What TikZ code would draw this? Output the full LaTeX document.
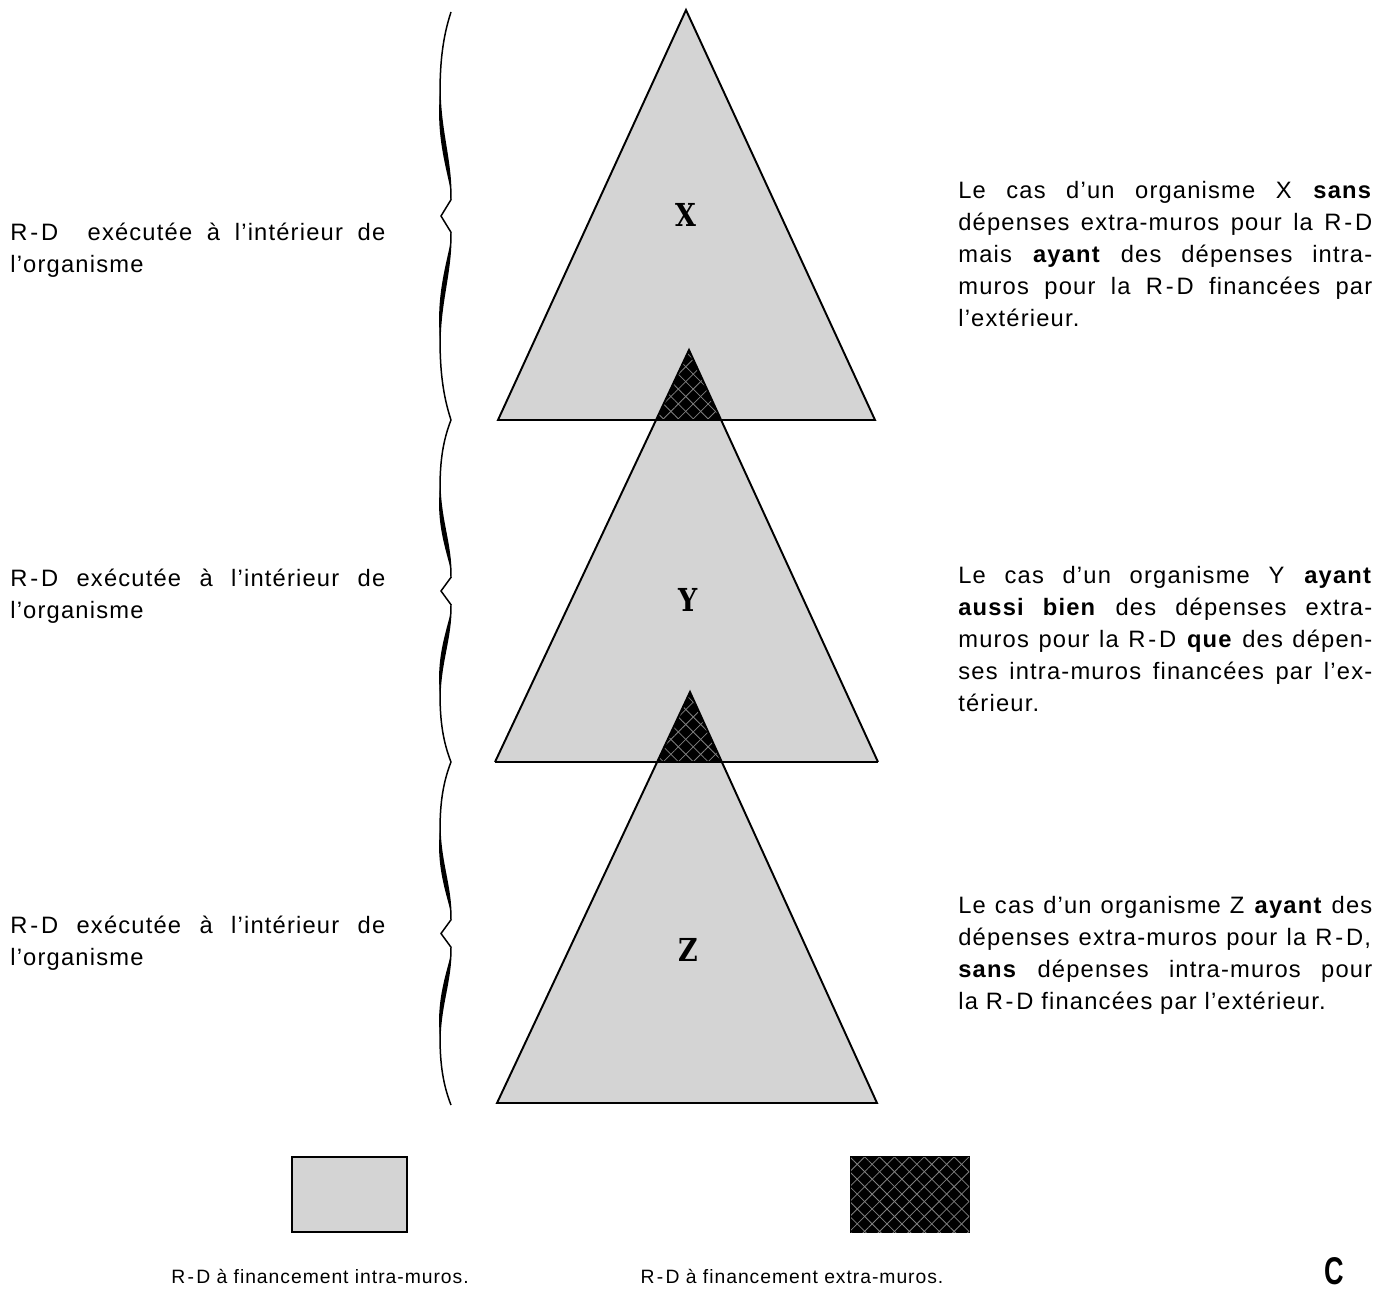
\documentclass[tikz,border=0pt]{standalone}
\usepackage{fontspec}
\setmainfont{Liberation Sans}[LetterSpace=5]
\newfontfamily\slabfont{DejaVu Serif}
\usetikzlibrary{patterns.meta}

\newcommand{\rd}{R\kern.12em-\kern.12em D}

\tikzset{
    light/.style={fill=black!17},
    dark/.style={fill=black,
        postaction={pattern={Lines[angle=45,distance=6pt,line width=.45pt]}, pattern color=white!50!black},
        postaction={pattern={Lines[angle=-45,distance=6pt,line width=.45pt]}, pattern color=white!50!black}},
    outline/.style={draw=black, line width=1.1pt},
    para/.style={text width=8.28cm, align=justify, inner sep=0pt, anchor=north west, font=\fontsize{13.5}{18.2}\selectfont},
    side/.style={text width=7.5cm, align=justify, inner sep=0pt, anchor=north west, font=\fontsize{13.5}{18.2}\selectfont},
    letter/.style={xscale=.85, font=\slabfont\bfseries\fontsize{18}{18}\selectfont},
    legend/.style={anchor=base, inner sep=0pt, font=\fontsize{11}{13}\selectfont},
    brace/.style={line width=.85pt}
}

\begin{document}
\begin{tikzpicture}[x=0.02cm, y=-0.02cm]
    \useasboundingbox (0,0) rectangle (1380,1291);

    \coordinate (topX) at (686,10);
    \coordinate (leftX) at (498,420);
    \coordinate (rightX) at (875,420);
    \coordinate (topY) at (689,350);
    \coordinate (leftY) at (495,762);
    \coordinate (rightY) at (878,762);
    \coordinate (topZ) at (690,692);
    \coordinate (leftZ) at (497,1103);
    \coordinate (rightZ) at (877,1103);

    \fill[light] (topX) -- (leftX) -- (rightX) -- cycle;
    \fill[light] (topY) -- (leftY) -- (rightY) -- cycle;
    \fill[light] (topZ) -- (leftZ) -- (rightZ) -- cycle;
    \begin{scope}
        \clip (topX) -- (leftX) -- (rightX) -- cycle;
        \fill[dark] (topY) -- (leftY) -- (rightY) -- cycle;
    \end{scope}
    \begin{scope}
        \clip (topY) -- (leftY) -- (rightY) -- cycle;
        \fill[dark] (topZ) -- (leftZ) -- (rightZ) -- cycle;
    \end{scope}
    \draw[outline] (topX) -- (leftX) -- (rightX) -- cycle;
    \draw[outline] (leftY) -- (rightY);
    \draw[outline] (leftY) -- (topY) -- (rightY);
    \draw[outline] (topZ) -- (leftZ) -- (rightZ) -- cycle;

    \node[letter] (letX) at (686,215) {X};
    \node[letter] (letY) at (688,600) {Y};
    \node[letter] (letZ) at (688,950) {Z};

    \foreach \ya/\yb in {12/420, 420/762, 762/1105} {
        \pgfmathsetmacro{\h}{\yb-\ya}
        \pgfmathsetmacro{\ym}{(\ya+\yb)/2}
        \draw[brace] (451,\ya) .. controls (443,{\ya+.06*\h}) and (440,{\ya+.12*\h}) .. (440,{\ya+.2*\h})
            .. controls (441,{\ya+.3*\h}) and (451,{\ya+.36*\h}) .. (451,{\ya+.46*\h}) -- (441,\ym)
            -- (451,{\yb-.46*\h}) .. controls (451,{\yb-.36*\h}) and (441,{\yb-.3*\h}) .. (440,{\yb-.2*\h})
            .. controls (440,{\yb-.12*\h}) and (443,{\yb-.06*\h}) .. (451,\yb);
        \fill (440,{\ya+.2*\h}) .. controls (436,{\ya+.3*\h}) and (446,{\ya+.38*\h}) .. (451,{\ya+.44*\h})
            .. controls (450,{\ya+.36*\h}) and (441,{\ya+.3*\h}) .. cycle;
        \fill (440,{\yb-.2*\h}) .. controls (436,{\yb-.3*\h}) and (446,{\yb-.38*\h}) .. (451,{\yb-.44*\h})
            .. controls (450,{\yb-.36*\h}) and (441,{\yb-.3*\h}) .. cycle;
    }

    \node[side] (lblX) at (10,223) {\rd\ \ exécutée à l’intérieur de\linebreak l’organisme};
    \node[side] (lblY) at (10,569) {\rd{} exécutée à l’intérieur de\linebreak l’organisme};
    \node[side] (lblZ) at (10,916) {\rd{} exécutée à l’intérieur de\linebreak l’organisme};

    \node[para] (txtX) at (958,181) {Le cas d’un organisme X \textbf{sans}\linebreak
        dépenses extra-muros pour la \rd\linebreak
        mais \textbf{ayant} des dépenses intra-\linebreak
        muros pour la \rd{} financées par\linebreak
        l’extérieur.};
    \node[para] (txtY) at (958,566) {Le cas d’un organisme Y \textbf{ayant}\linebreak
        \textbf{aussi bien} des dépenses extra-\linebreak
        muros pour la \rd{} \textbf{que} des dépen-\linebreak
        ses intra-muros financées par l’ex-\linebreak
        térieur.};
    \node[para] (txtZ) at (958,896) {Le cas d’un organisme Z \textbf{ayant} des\linebreak
        dépenses extra-muros pour la \rd,\linebreak
        \textbf{sans} dépenses intra-muros pour\linebreak
        la \rd{} financées par l’extérieur.};

    \draw[light, draw=black, line width=.6pt] (292,1157) rectangle (407,1232);
    \draw[dark, draw=black, line width=.6pt] (851,1157) rectangle (969,1232);

    \node[legend] (legIntra) at (320,1283) {\rd{} à financement intra-muros.};
    \node[legend] (legExtra) at (792,1283) {\rd{} à financement extra-muros.};
    \node[anchor=base, inner sep=0pt, xscale=.7, font=\bfseries\fontsize{22}{22}\selectfont] (mark) at (1334,1284) {C};
\end{tikzpicture}
\end{document}
